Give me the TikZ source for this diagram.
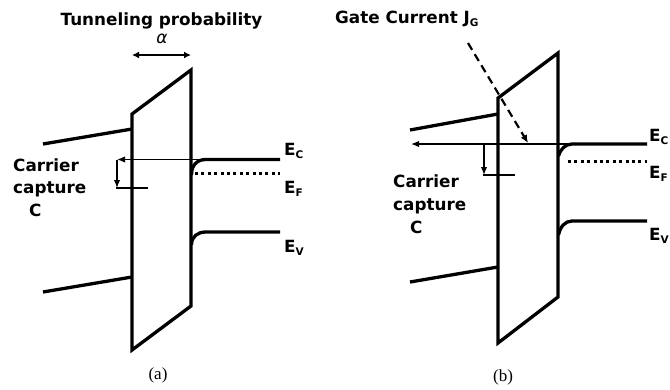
\documentclass[tikz,border=0pt]{standalone}
\usepackage{fontspec}
\setmainfont{DejaVu Sans}
\newfontfamily\capfont{Liberation Serif}
\usetikzlibrary{arrows.meta}
\newcommand{\sbs}[1]{\raisebox{-0.22em}{\fontsize{10.5}{10.5}\selectfont #1}}
\tikzset{
  band/.style={line width=3.3pt, line join=miter},
  thinarrow/.style={line width=1.4pt, -{Latex[length=8pt,width=6.5pt]}},
  lbl/.style={font=\fontsize{16.8}{19}\selectfont\bfseries, inner sep=0pt},
  captext/.style={font=\capfont\fontsize{17}{19}\selectfont, inner sep=0pt},
  fermi/.style={line width=3pt, dash pattern=on 3pt off 3.4pt},
  trap/.style={line width=2.8pt},
}
\begin{document}
\begin{tikzpicture}[x=1pt,y=-1pt]
\useasboundingbox (0,0) rectangle (670,389);
% ===== panel (a) =====
\node[lbl, anchor=base] (ta) at (161.5,25) {Tunneling probability};
\node[font=\fontsize{17}{18}\selectfont\itshape, inner sep=0pt, anchor=base] (alpha) at (162,43) {α};
\coordinate (al) at (132,55);
\coordinate (ar) at (191,55);
\draw[line width=2pt, {Latex[length=7pt,width=7pt]}-{Latex[length=7pt,width=7pt]}] (al) -- (ar);
% barrier
\coordinate (abl) at (132,350);
\coordinate (atl) at (132,114);
\coordinate (atr) at (191,70);
\coordinate (abr) at (191,306);
\draw[band] (abl) -- (atl) -- (atr) -- (abr) -- cycle;
% left bands
\coordinate (ua1) at (43,144); \coordinate (ua2) at (132,129);
\coordinate (la1) at (43,292); \coordinate (la2) at (132,277);
\draw[band] (ua1) -- (ua2);
\draw[band] (la1) -- (la2);
% EC
\coordinate (eca0) at (191.5,175);
\coordinate (eca1) at (206,159.5);
\coordinate (eca2) at (280,159.5);
\draw[band] (eca0) .. controls (191.5,164) and (198,159.5) .. (eca1) -- (eca2);
\coordinate (arra) at (117,159.5);
\draw[thinarrow] (eca1) -- (arra);
\coordinate (dna) at (117,188);
\draw[thinarrow] (arra) -- (dna);
\coordinate (tra1) at (116,188); \coordinate (tra2) at (148,188);
\draw[trap] (tra1) -- (tra2);
% EF
\coordinate (efa1) at (195,173); \coordinate (efa2) at (280,173);
\draw[fermi] (efa1) -- (efa2);
% EV
\coordinate (eva0) at (191.5,245);
\coordinate (eva1) at (206,232);
\coordinate (eva2) at (280,232);
\draw[band] (eva0) .. controls (191.5,236) and (198,232) .. (eva1) -- (eva2);
% labels
\node[lbl, anchor=base west] (eca) at (284,155) {E\sbs{C}};
\node[lbl, anchor=base west] (efa) at (284,193) {E\sbs{F}};
\node[lbl, anchor=base west] (eva) at (284,252) {E\sbs{V}};
\node[lbl, anchor=base west] (c1a) at (13,171) {Carrier};
\node[lbl, anchor=base west] (c2a) at (13,193) {capture};
\node[lbl, anchor=base west] (c3a) at (29,216) {C};
\node[captext, anchor=center] (capa) at (158,375) {(a)};
% ===== panel (b) =====
\node[lbl, anchor=base west] (tb) at (335,23) {Gate Current J\sbs{G}};
\coordinate (bbl) at (498,343);
\coordinate (btl) at (498,98);
\coordinate (btr) at (558,53);
\coordinate (bbr) at (558,297);
\draw[band] (bbl) -- (btl) -- (btr) -- (bbr) -- cycle;
\coordinate (ub1) at (410,130); \coordinate (ub2) at (498,114);
\coordinate (lb1) at (410,282); \coordinate (lb2) at (498,267);
\draw[band] (ub1) -- (ub2);
\draw[band] (lb1) -- (lb2);
% EC
\coordinate (ecb0) at (558.5,156);
\coordinate (ecb1) at (572,144);
\coordinate (ecb2) at (647,144);
\draw[band] (ecb0) .. controls (560,150) and (565,144) .. (ecb1) -- (ecb2);
\coordinate (arrb) at (411,144);
\draw[thinarrow] (ecb1) -- (arrb);
\coordinate (dnb0) at (484,144);
\coordinate (dnb) at (484,175);
\draw[thinarrow] (dnb0) -- (dnb);
\coordinate (trb1) at (483,175); \coordinate (trb2) at (515,175);
\draw[trap] (trb1) -- (trb2);
% dashed gate current
\coordinate (jg0) at (468,43);
\coordinate (jg1) at (528,143);
\draw[line width=2.2pt, dash pattern=on 8pt off 5pt, -{Latex[length=8pt,width=7pt]}] (jg0) -- (jg1);
% EF
\coordinate (efb1) at (568,161); \coordinate (efb2) at (647,161);
\draw[fermi] (efb1) -- (efb2);
% EV
\coordinate (evb0) at (558.5,235);
\coordinate (evb1) at (572,221);
\coordinate (evb2) at (647,221);
\draw[band] (evb0) .. controls (560,227) and (565,221) .. (evb1) -- (evb2);
\node[lbl, anchor=base west] (ecb) at (649,141) {E\sbs{C}};
\node[lbl, anchor=base west] (efb) at (649,178) {E\sbs{F}};
\node[lbl, anchor=base west] (evb) at (649,240) {E\sbs{V}};
\node[lbl, anchor=base west] (c1b) at (393,187) {Carrier};
\node[lbl, anchor=base west] (c2b) at (393,210) {capture};
\node[lbl, anchor=base west] (c3b) at (410,233) {C};
\node[captext, anchor=center] (capb) at (503,377) {(b)};
\end{tikzpicture}
\end{document}
